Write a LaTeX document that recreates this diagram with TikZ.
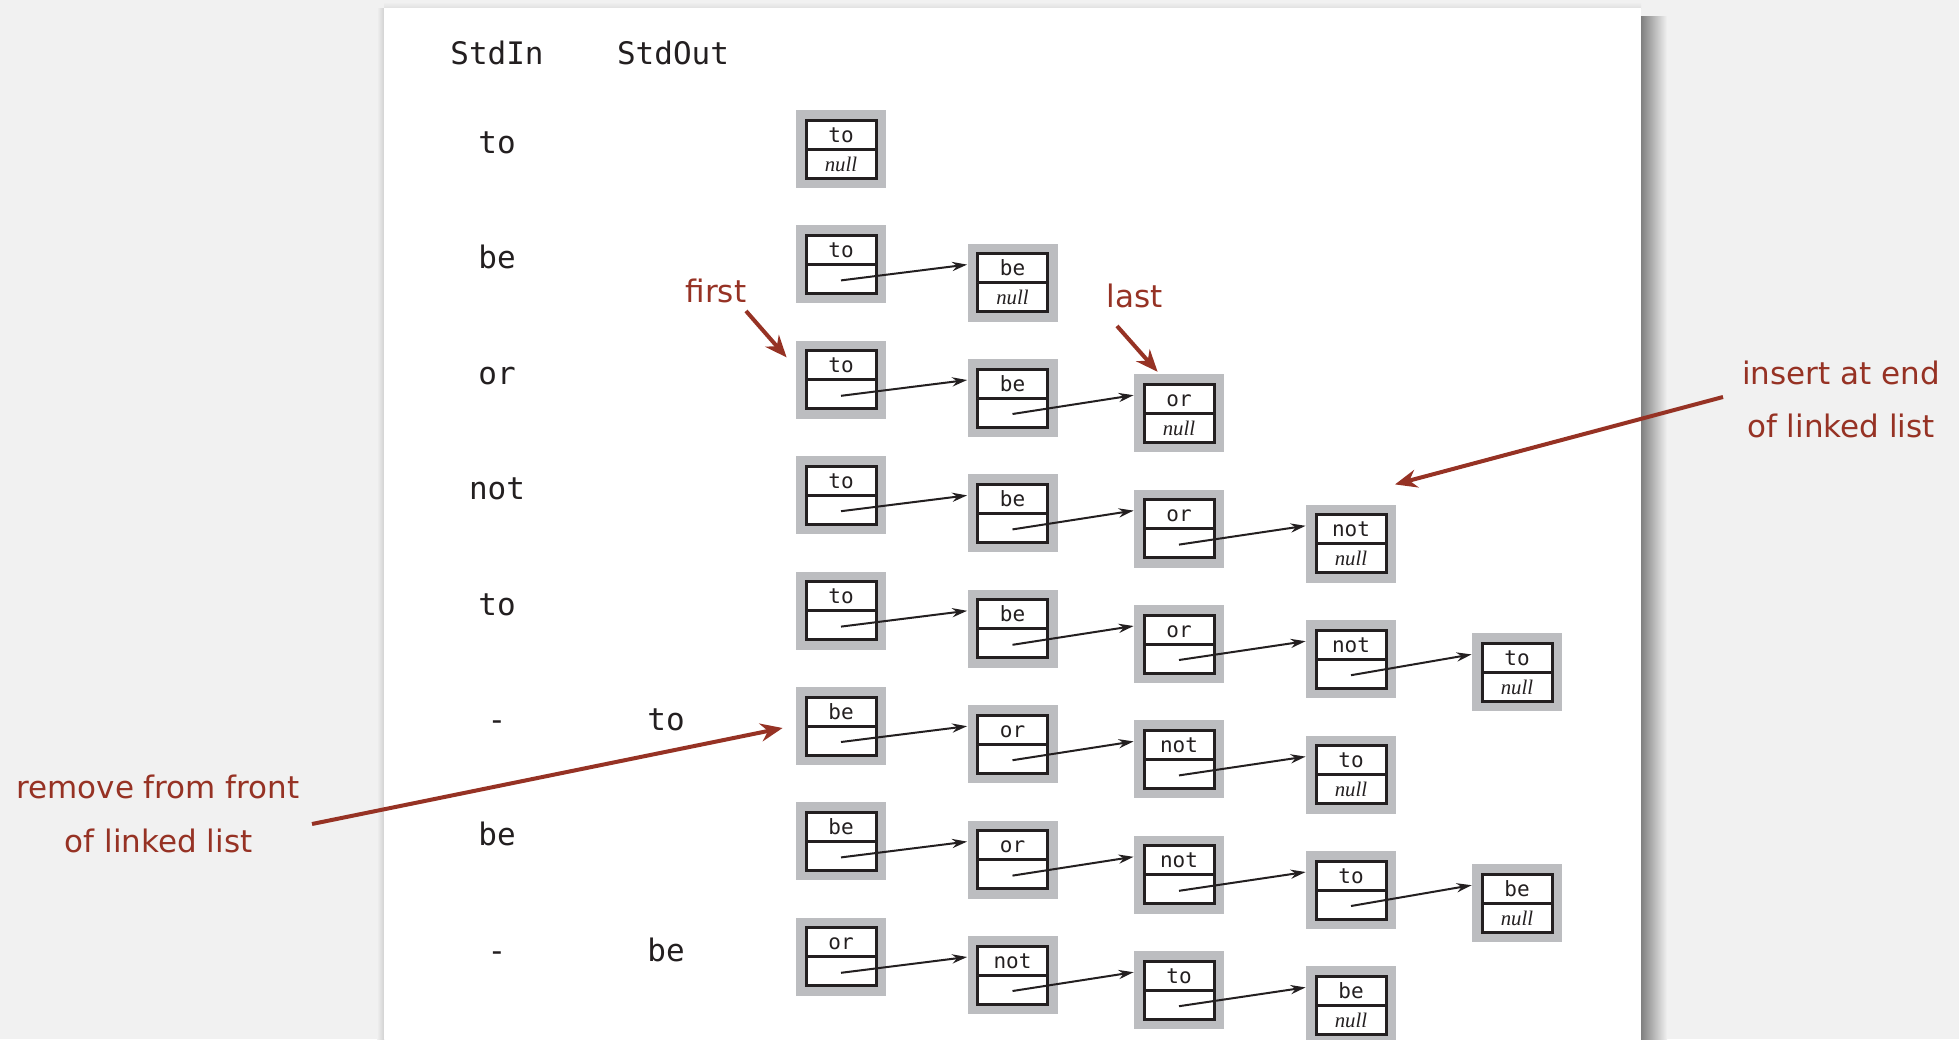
\documentclass[tikz,border=0pt]{standalone}
\usepackage{fontspec}
\setsansfont{DejaVu Sans}
\setmonofont{DejaVu Sans Mono}
\newfontfamily\LLnullfam{Liberation Serif}
\usetikzlibrary{arrows.meta,calc}
\definecolor{bgc}{RGB}{241,241,241}
\definecolor{boxgray}{RGB}{188,189,192}
\definecolor{ink}{RGB}{35,31,32}
\definecolor{redc}{RGB}{150,50,36}
% #1 name, #2 x, #3 y, #4 key text
\newcommand\LLnode[4]{%
  \node[graybox] (#1) at (#2,#3) {};
  \draw[cellline] ($(#1.center)+(-35,-29)$) rectangle ($(#1.center)+(35,29)$);
  \draw[cellline] ($(#1.center)+(-35,0)$) -- ($(#1.center)+(35,0)$);
  \node[celltext] (#1k) at ($(#1.center)+(0,-7)$) {#4};
}
\newcommand\LLlast[4]{%
  \LLnode{#1}{#2}{#3}{#4}
  \node[nulltext] (#1n) at ($(#1.center)+(0,22)$) {null};
}
\newcommand\LLlink[2]{%
  \draw[ptr] ($(#1.center)+(0,16)$) -- ($(#2.west)+(0,-18)$);
}
\begin{document}
\begin{tikzpicture}[x=0.5pt,y=-0.5pt,
  graybox/.style={fill=boxgray, minimum width=45pt, minimum height=39pt, inner sep=0pt, draw=none},
  cellline/.style={draw=ink, fill=white, line width=1.5pt},
  celltext/.style={font=\ttfamily\fontsize{10.5}{12}\selectfont, text=ink, anchor=base, inner sep=0pt},
  nulltext/.style={font=\LLnullfam\itshape\fontsize{10.4}{12}\selectfont, text=ink, anchor=base, inner sep=0pt},
  lbl/.style={font=\ttfamily\fontsize{15.5}{18}\selectfont, text=ink, anchor=base, inner sep=0pt},
  note/.style={font=\sffamily\fontsize{15.5}{18}\selectfont, text=redc, anchor=base, inner sep=0pt},
  ptr/.style={draw=ink, line width=1pt, -{Stealth[length=7.5pt,width=4.6pt]}},
  redptr/.style={draw=redc, line width=2pt, -{Stealth[length=11pt,width=9pt]}},
]
\clip (0,0) rectangle (1959,1039);
\fill[bgc] (0,0) rectangle (1959,1039);
\shade[left color=black!50, right color=bgc] (1641,16) rectangle (1667,1039);
\shade[left color=bgc, right color=black!18] (377,8) rectangle (384,1039);
\shade[top color=bgc, bottom color=black!12] (384,2) rectangle (1641,8);
\fill[white] (384,8) rectangle (1641,1039);

% headers
\node[lbl] (hin) at (497,64) {StdIn};
\node[lbl] (hout) at (673,64) {StdOut};

% StdIn / StdOut columns
\node[lbl] (in1) at (497,153.5) {to};
\node[lbl] (in2) at (497,268.9) {be};
\node[lbl] (in3) at (497,384.3) {or};
\node[lbl] (in4) at (497,499.7) {not};
\node[lbl] (in5) at (497,615.1) {to};
\node[lbl] (in6) at (497,730.5) {-};
\node[lbl] (in7) at (497,845.9) {be};
\node[lbl] (in8) at (497,961.3) {-};
\node[lbl] (out6) at (666,730.5) {to};
\node[lbl] (out8) at (666,961.3) {be};

% row 1
\LLlast{a11}{841}{149}{to}
% row 2
\LLnode{a21}{841}{264.4}{to}
\LLlast{a22}{1012.5}{282.6}{be}
\LLlink{a21}{a22}
% row 3
\LLnode{a31}{841}{379.8}{to}
\LLnode{a32}{1012.5}{398.0}{be}
\LLlast{a33}{1179}{413.2}{or}
\LLlink{a31}{a32}
\LLlink{a32}{a33}
% row 4
\LLnode{a41}{841}{495.2}{to}
\LLnode{a42}{1012.5}{513.4}{be}
\LLnode{a43}{1179}{528.6}{or}
\LLlast{a44}{1351}{543.8}{not}
\LLlink{a41}{a42}
\LLlink{a42}{a43}
\LLlink{a43}{a44}
% row 5
\LLnode{a51}{841}{610.6}{to}
\LLnode{a52}{1012.5}{628.8}{be}
\LLnode{a53}{1179}{644.0}{or}
\LLnode{a54}{1351}{659.2}{not}
\LLlast{a55}{1517}{672.4}{to}
\LLlink{a51}{a52}
\LLlink{a52}{a53}
\LLlink{a53}{a54}
\LLlink{a54}{a55}
% row 6
\LLnode{a61}{841}{726.0}{be}
\LLnode{a62}{1012.5}{744.2}{or}
\LLnode{a63}{1179}{759.4}{not}
\LLlast{a64}{1351}{774.6}{to}
\LLlink{a61}{a62}
\LLlink{a62}{a63}
\LLlink{a63}{a64}
% row 7
\LLnode{a71}{841}{841.4}{be}
\LLnode{a72}{1012.5}{859.6}{or}
\LLnode{a73}{1179}{874.8}{not}
\LLnode{a74}{1351}{890.0}{to}
\LLlast{a75}{1517}{903.2}{be}
\LLlink{a71}{a72}
\LLlink{a72}{a73}
\LLlink{a73}{a74}
\LLlink{a74}{a75}
% row 8
\LLnode{a81}{841}{956.8}{or}
\LLnode{a82}{1012.5}{975.0}{not}
\LLnode{a83}{1179}{990.2}{to}
\LLlast{a84}{1351}{1005.4}{be}
\LLlink{a81}{a82}
\LLlink{a82}{a83}
\LLlink{a83}{a84}

% annotations
\node[note] (first) at (716,302) {first};
\draw[redptr] ($(first.base)+(30,9)$) -- ($(a31.north west)+(-9,17)$);
\node[note] (last) at (1134.5,307) {last};
\draw[redptr] ($(last.base)+(-17.5,19)$) -- ($(a33.north west)+(24,-2)$);
\node[note] (ins1) at (1841,384) {insert at end};
\node[note] (ins2) at (1841,437) {of linked list};
\coordinate (insStart) at (1723,397);
\draw[redptr] (insStart) -- ($(a44.north)+(44,-20)$);
\node[note] (rem1) at (158,798) {remove from front};
\node[note] (rem2) at (158.5,852) {of linked list};
\coordinate (remStart) at (312,824);
\draw[redptr] (remStart) -- ($(a61.west)+(-13,2)$);
\end{tikzpicture}
\end{document}
